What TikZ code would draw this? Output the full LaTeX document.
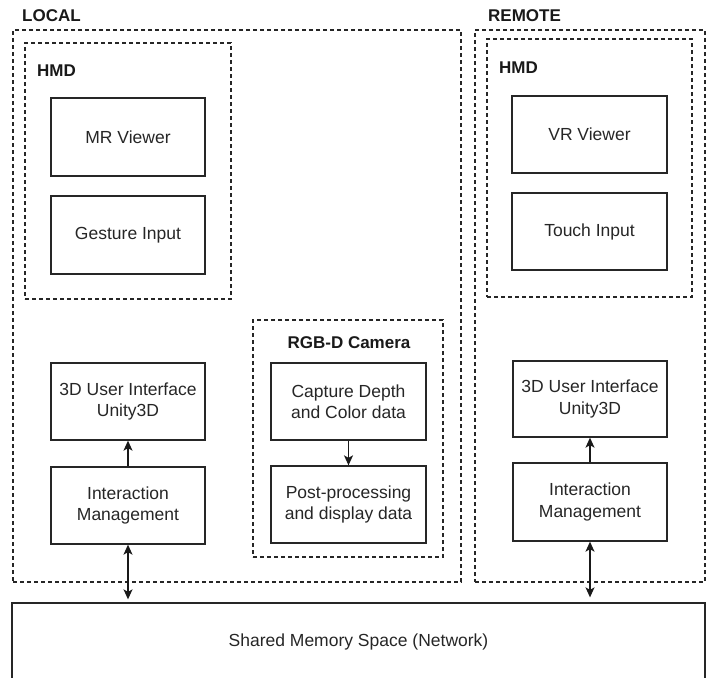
\documentclass[tikz,border=0pt]{standalone}
\usepackage{fontspec}
\setmainfont{Liberation Sans}
\usetikzlibrary{arrows.meta}
\begin{document}
\begin{tikzpicture}[x=1pt,y=-1pt,
  bx/.style n args={2}{minimum width=#1,minimum height=#2},
  solidbox/.style={draw=black!85,line width=1.3pt,inner sep=0pt,align=center,
    text=black!85,font=\fontsize{17.5}{21.5}\selectfont},
  dashbox/.style={draw=black!85,line width=1.1pt,dash pattern=on 4pt off 3pt,inner sep=0pt},
  ttl/.style={anchor=west,inner sep=0pt,text=black!90,font=\fontsize{17}{20}\selectfont\bfseries},
  tip/.tip={Stealth[length=10pt,width=9pt,inset=2.5pt]},
  arr/.style={draw=black!90,line width=1.3pt,-tip},
  darr/.style={draw=black!90,line width=1.3pt,tip-tip}
]
\useasboundingbox (0,0) rectangle (713,678);
\clip (0,0) rectangle (713,678);

% LOCAL
\node[ttl] (loclbl) at (22,16) {LOCAL};
\node[dashbox,bx={448}{552}] (localbox) at (237,306) {};
\node[dashbox,bx={206}{256}] (lhmd) at (128,171) {};
\node[ttl] (lhmdlbl) at (37,71) {HMD};
\node[solidbox,bx={154}{78}] (mrv) at (128,137) {MR Viewer};
\node[solidbox,bx={154}{78}] (gest) at (128,235) {Gesture Input};
\node[solidbox,bx={154}{77}] (ui1) at (128,401.5) {3D User Interface\\Unity3D};
\node[solidbox,bx={154}{77}] (im1) at (128,505.5) {Interaction\\Management};

\node[dashbox,bx={190}{237}] (rgbd) at (348,438.5) {};
\node[ttl,anchor=center] (rgbdlbl) at (349,343) {RGB-D Camera};
\node[solidbox,bx={155}{77}] (cap) at (348.5,401.5) {Capture Depth\\and Color data};
\node[solidbox,bx={155}{77}] (post) at (348.5,504.5) {Post-processing\\and display data};

% REMOTE
\node[ttl] (remlbl) at (488,16) {REMOTE};
\node[dashbox,bx={230}{552}] (remotebox) at (590,306) {};
\node[dashbox,bx={205}{258}] (rhmd) at (589.5,168) {};
\node[ttl] (rhmdlbl) at (499,68) {HMD};
\node[solidbox,bx={155}{77}] (vrv) at (589.5,134.5) {VR Viewer};
\node[solidbox,bx={155}{77}] (touch) at (589.5,231.5) {Touch Input};
\node[solidbox,bx={154}{76}] (ui2) at (590,399) {3D User Interface\\Unity3D};
\node[solidbox,bx={154}{78}] (im2) at (590,502) {Interaction\\Management};

% Shared
\node[solidbox,bx={693}{78}] (shared) at (358.5,642) {Shared Memory Space (Network)};

% Arrows
\draw[arr] (im1) -- (ui1);
\draw[arr] (cap) -- (post);
\draw[arr] (im2) -- (ui2);
\draw[darr,shorten >=3pt] (im1.south) -- (im1.south |- shared.north);
\draw[darr,shorten >=5pt] (im2.south) -- (im2.south |- shared.north);
\end{tikzpicture}
\end{document}
